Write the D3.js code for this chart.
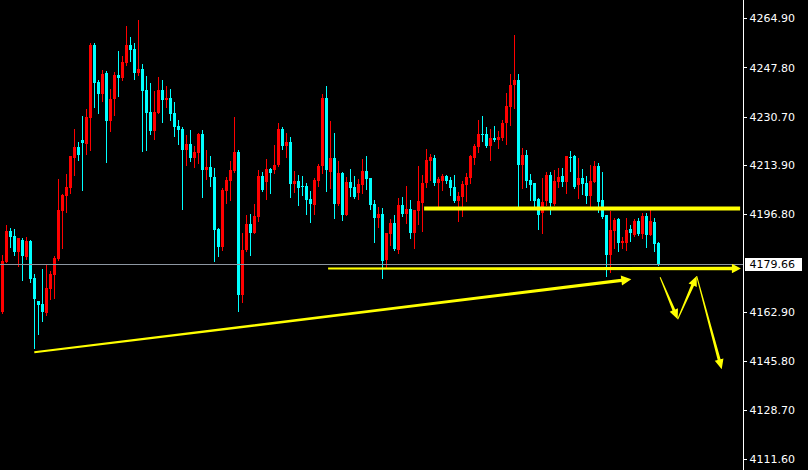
<!DOCTYPE html>
<html><head><meta charset="utf-8">
<script src="https://cdn.jsdelivr.net/npm/d3@7"></script>
<style>html,body{margin:0;padding:0;background:#000;overflow:hidden}svg{display:block}</style>
</head><body>
<svg id="c" width="808" height="470"></svg>
<script>
// ---- Candle data (bar index 0..164) ----
const opens = [4162.9,4180.3,4191.0,4189.2,4183.8,4187.8,4181.8,4187.5,4174.5,4166.6,4165.6,4162.6,4170.8,4175.7,4181.2,4197.9,4203.1,4206.0,4216.5,4220.2,4222.6,4221.2,4230.4,4255.6,4242.8,4238.7,4245.9,4229.2,4236.9,4245.3,4244.3,4249.5,4255.6,4254.2,4246.0,4247.4,4240.0,4232.3,4225.7,4232.0,4240.0,4236.5,4237.1,4232.0,4227.5,4226.4,4219.1,4221.1,4216.5,4218.2,4224.7,4212.2,4213.1,4209.7,4191.7,4185.5,4204.9,4208.5,4211.8,4218.4,4168.7,4184.3,4193.4,4190.3,4196.0,4210.1,4208.1,4212.5,4212.2,4213.8,4226.4,4220.5,4221.9,4207.3,4208.4,4206.5,4206.6,4202.1,4200.0,4208.4,4213.6,4237.2,4211.3,4216.4,4200.2,4211.1,4196.5,4208.0,4206.3,4204.3,4207.0,4211.8,4209.4,4200.4,4195.5,4196.9,4180.9,4189.9,4193.8,4184.4,4200.0,4196.9,4198.6,4190.3,4197.9,4200.7,4207.7,4215.3,4216.4,4207.7,4208.4,4210.1,4208.7,4206.3,4201.4,4202.8,4207.0,4209.4,4216.4,4220.2,4224.7,4224.7,4220.5,4223.3,4222.6,4223.3,4228.5,4234.1,4241.7,4243.5,4213.9,4217.4,4208.7,4207.7,4202.1,4197.2,4201.4,4210.4,4200.4,4208.0,4210.1,4208.0,4216.7,4217.0,4207.0,4209.4,4207.7,4203.1,4208.0,4213.6,4201.8,4196.5,4182.6,4191.0,4195.1,4186.8,4186.8,4191.7,4189.6,4194.4,4189.9,4196.2,4189.6,4194.1,4186.8];
const highs = [4182.6,4193.1,4191.9,4191.7,4188.7,4188.4,4188.9,4187.8,4175.9,4166.8,4177.8,4179.2,4177.2,4182.2,4209.1,4203.8,4210.7,4217.2,4226.4,4221.9,4230.9,4233.4,4256.3,4256.3,4243.5,4246.9,4246.7,4240.3,4246.1,4253.5,4251.7,4262.2,4258.4,4256.2,4264.3,4248.9,4244.9,4242.3,4239.6,4244.5,4243.5,4241.4,4240.3,4235.7,4229.4,4227.1,4224.3,4226.0,4220.5,4225.0,4226.0,4219.1,4217.0,4212.8,4191.9,4205.8,4209.6,4215.3,4230.6,4219.1,4190.2,4196.5,4196.8,4200.4,4212.2,4211.4,4216.0,4212.9,4220.9,4228.5,4227.1,4225.0,4223.6,4211.8,4210.4,4210.0,4207.5,4204.9,4209.4,4214.2,4238.6,4241.4,4229.2,4225.0,4215.3,4211.5,4209.7,4212.5,4210.1,4209.1,4216.0,4217.0,4209.5,4201.8,4199.3,4199.0,4190.3,4195.1,4196.5,4202.4,4202.8,4206.6,4201.8,4198.4,4213.6,4210.4,4219.5,4217.7,4217.4,4209.7,4210.8,4210.4,4209.7,4210.4,4204.5,4208.4,4211.1,4217.4,4221.2,4229.6,4230.9,4227.1,4226.4,4227.5,4225.7,4229.6,4238.9,4245.5,4259.1,4245.5,4219.8,4219.1,4210.8,4207.8,4202.4,4209.4,4211.5,4211.5,4212.2,4212.9,4212.9,4217.1,4218.8,4217.4,4216.4,4212.5,4210.1,4213.9,4215.3,4214.6,4211.5,4196.6,4197.9,4195.5,4195.5,4189.0,4195.5,4193.1,4195.1,4195.5,4197.2,4197.2,4198.3,4195.5,4187.2];
const lows = [4162.6,4180.1,4185.5,4182.6,4178.9,4173.9,4181.2,4173.4,4150.4,4155.2,4159.8,4161.8,4167.3,4167.6,4181.0,4185.2,4197.4,4204.0,4210.4,4215.7,4205.2,4217.7,4219.1,4234.1,4232.1,4236.3,4215.1,4225.8,4231.3,4237.9,4243.3,4248.7,4250.2,4243.9,4245.3,4218.8,4219.1,4224.7,4222.9,4231.9,4229.0,4234.2,4229.6,4224.1,4221.2,4198.7,4213.9,4215.3,4213.2,4214.7,4202.8,4209.1,4206.6,4180.6,4182.1,4184.5,4200.8,4201.8,4211.6,4163.3,4166.4,4184.0,4182.6,4190.1,4194.6,4204.9,4202.2,4204.0,4211.1,4213.6,4219.6,4216.8,4202.9,4204.6,4200.1,4203.5,4196.9,4194.2,4196.9,4206.7,4211.1,4204.9,4205.9,4195.6,4200.0,4194.9,4196.4,4203.1,4202.6,4202.1,4204.3,4205.6,4198.7,4187.1,4192.4,4174.6,4178.1,4186.1,4184.4,4183.3,4196.2,4193.8,4188.5,4185.1,4193.5,4191.0,4206.3,4208.7,4207.0,4199.3,4205.2,4207.7,4203.5,4201.1,4194.6,4196.2,4201.4,4207.7,4214.3,4218.4,4222.3,4220.2,4215.7,4222.3,4219.8,4222.6,4221.2,4227.8,4233.8,4199.4,4205.9,4206.3,4201.8,4199.3,4191.7,4190.3,4200.0,4196.9,4200.0,4206.3,4206.6,4204.2,4211.8,4205.9,4202.4,4203.8,4200.7,4199.3,4207.9,4197.6,4195.5,4175.3,4176.7,4185.1,4184.0,4185.0,4184.4,4187.5,4189.2,4189.6,4188.5,4185.4,4189.5,4184.0,4179.3];
const closes = [4180.6,4191.0,4189.0,4183.7,4188.4,4182.1,4187.5,4174.3,4167.3,4165.3,4162.7,4171.0,4176.0,4181.5,4198.3,4203.5,4206.2,4217.0,4220.2,4217.4,4221.6,4230.6,4255.6,4242.5,4238.6,4245.5,4229.2,4236.9,4245.3,4244.3,4249.7,4255.6,4253.9,4246.0,4247.4,4239.6,4232.0,4225.7,4232.3,4240.0,4236.5,4237.2,4231.6,4227.2,4226.1,4219.1,4221.1,4216.5,4218.4,4224.7,4212.2,4213.2,4209.7,4191.3,4185.5,4205.2,4208.7,4212.2,4218.4,4168.7,4184.4,4193.4,4190.3,4196.2,4210.1,4205.2,4212.5,4211.1,4213.9,4226.4,4220.5,4221.9,4207.3,4208.4,4205.9,4206.3,4201.8,4200.4,4208.7,4213.6,4237.2,4212.2,4216.4,4200.5,4211.1,4196.5,4208.0,4205.9,4202.8,4207.3,4211.8,4209.1,4200.0,4195.5,4196.9,4180.6,4190.2,4193.8,4184.6,4200.0,4196.9,4198.6,4190.3,4198.3,4201.4,4207.7,4215.7,4216.7,4207.7,4209.1,4210.2,4208.4,4205.9,4201.4,4203.1,4207.3,4209.7,4217.0,4220.5,4224.7,4224.3,4220.5,4223.3,4222.6,4223.6,4228.5,4234.4,4241.7,4243.5,4213.9,4217.4,4208.4,4207.0,4201.4,4196.5,4201.1,4210.4,4200.7,4208.4,4209.7,4208.0,4217.0,4216.4,4206.3,4209.4,4207.3,4203.1,4208.4,4213.6,4201.1,4195.8,4182.6,4191.3,4194.8,4186.8,4187.5,4191.3,4190.3,4194.4,4189.9,4196.2,4189.6,4194.4,4186.5,4179.66];

// ---- Axis / price info ----
const tickValues = [4264.90, 4247.80, 4230.70, 4213.90, 4196.80, 4162.90, 4145.80, 4128.70, 4111.60];
const lastPrice = 4179.66;

// ---- Drawn objects (bar index, price) ----
const resistanceLine = [[105.4, 4198.8], [184.4, 4198.8]];
const supportArrow = [[81.4, 4177.9], [184.6, 4177.9]];
const trendArrow = [[7.95, 4148.8], [157.2, 4174.2]];
const zigzagPath = [[164.4, 4174.9], [168.8, 4160.3], [173.55, 4175.3], [179.8, 4142.9]];

const W = 808, H = 470, axisX = 743;
const svg = d3.select('#c');
svg.append('rect').attr('width', W).attr('height', H).attr('fill', '#000');

const n = opens.length;
const x = d3.scaleLinear().domain([0, 1]).range([2.5, 6.5]);
const y = d3.scaleLinear().domain([4111.6, 4264.9]).range([459.3, 18.3]);

const UP = '#ff0000', DOWN = '#00ffff';
const bars = d3.range(n).map(i => ({i, o: opens[i], h: highs[i], l: lows[i], c: closes[i]}));

const gC = svg.append('g').attr('shape-rendering', 'crispEdges');
gC.selectAll('rect.wick').data(bars).join('rect').attr('class', 'wick')
  .attr('x', d => x(d.i) - 0.5).attr('width', 1)
  .attr('y', d => Math.round(y(d.h)))
  .attr('height', d => Math.max(1, Math.round(y(d.l)) - Math.round(y(d.h)) + 1))
  .attr('fill', d => d.c >= d.o ? UP : DOWN);
gC.selectAll('rect.body').data(bars).join('rect').attr('class', 'body')
  .attr('x', d => x(d.i) - 1.5).attr('width', 3)
  .attr('y', d => Math.round(y(Math.max(d.o, d.c))))
  .attr('height', d => Math.max(1, Math.round(y(Math.min(d.o, d.c))) - Math.round(y(Math.max(d.o, d.c)))))
  .attr('fill', d => d.c >= d.o ? UP : DOWN);

// price line
const py = Math.round(y(lastPrice)) + 0.5;
svg.append('line').attr('x1', 0).attr('x2', axisX).attr('y1', py).attr('y2', py)
  .attr('stroke', '#8d97a2').attr('stroke-width', 1);

// yellow objects
const YEL = '#ffff00';
const gY = svg.append('g');
function taperArrow(p0, p1, w0, w1, headLen, headHalf) {
  const x1 = x(p0[0]), y1 = y(p0[1]), x2 = x(p1[0]), y2 = y(p1[1]);
  const dx = x2 - x1, dy = y2 - y1, len = Math.hypot(dx, dy);
  const ux = dx / len, uy = dy / len, nx = -uy, ny = ux;
  const bx = x2 - ux * headLen, by = y2 - uy * headLen;
  const pts = [
    [x1 + nx * w0 / 2, y1 + ny * w0 / 2],
    [bx + nx * w1 / 2, by + ny * w1 / 2],
    [bx + nx * headHalf, by + ny * headHalf],
    [x2, y2],
    [bx - nx * headHalf, by - ny * headHalf],
    [bx - nx * w1 / 2, by - ny * w1 / 2],
    [x1 - nx * w0 / 2, y1 - ny * w0 / 2]
  ];
  gY.append('path').attr('d', 'M' + pts.map(p => p.join(',')).join('L') + 'Z').attr('fill', YEL);
}
// resistance (thick horizontal line)
gY.append('line')
  .attr('x1', x(resistanceLine[0][0])).attr('x2', x(resistanceLine[1][0]))
  .attr('y1', y(resistanceLine[0][1])).attr('y2', y(resistanceLine[1][1]))
  .attr('stroke', YEL).attr('stroke-width', 4);
taperArrow(supportArrow[0], supportArrow[1], 2, 3.6, 9, 4.8);
taperArrow(trendArrow[0], trendArrow[1], 2, 3.2, 10, 5);
for (let k = 0; k < zigzagPath.length - 1; k++) {
  taperArrow(zigzagPath[k], zigzagPath[k + 1], 1, 3, 10, 4.5);
}

// axis
svg.append('line').attr('x1', axisX + 0.5).attr('x2', axisX + 0.5).attr('y1', 0).attr('y2', H)
  .attr('stroke', '#fff').attr('stroke-width', 1);
const axis = d3.axisRight(y).tickValues(tickValues).tickFormat(d3.format('.2f')).tickSize(3).tickPadding(3);
const gA = svg.append('g').attr('transform', `translate(${axisX + 0.5},0)`).call(axis);
gA.select('.domain').remove();
gA.selectAll('.tick line').attr('stroke', '#fff').attr('shape-rendering', 'crispEdges');
gA.selectAll('.tick text').attr('fill', '#fff').style('font-family', '"DejaVu Sans", sans-serif').style('font-size', '11px');

// current price label
const gP = svg.append('g');
gP.append('rect').attr('x', axisX + 2).attr('y', py - 6.5).attr('width', 57).attr('height', 13).attr('fill', '#fff');
gP.append('text').attr('x', axisX + 6.5).attr('y', py).attr('dy', '0.35em')
  .attr('fill', '#000').style('font-family', '"DejaVu Sans", sans-serif').style('font-size', '11px')
  .text(lastPrice.toFixed(2));
</script>
</body></html>
